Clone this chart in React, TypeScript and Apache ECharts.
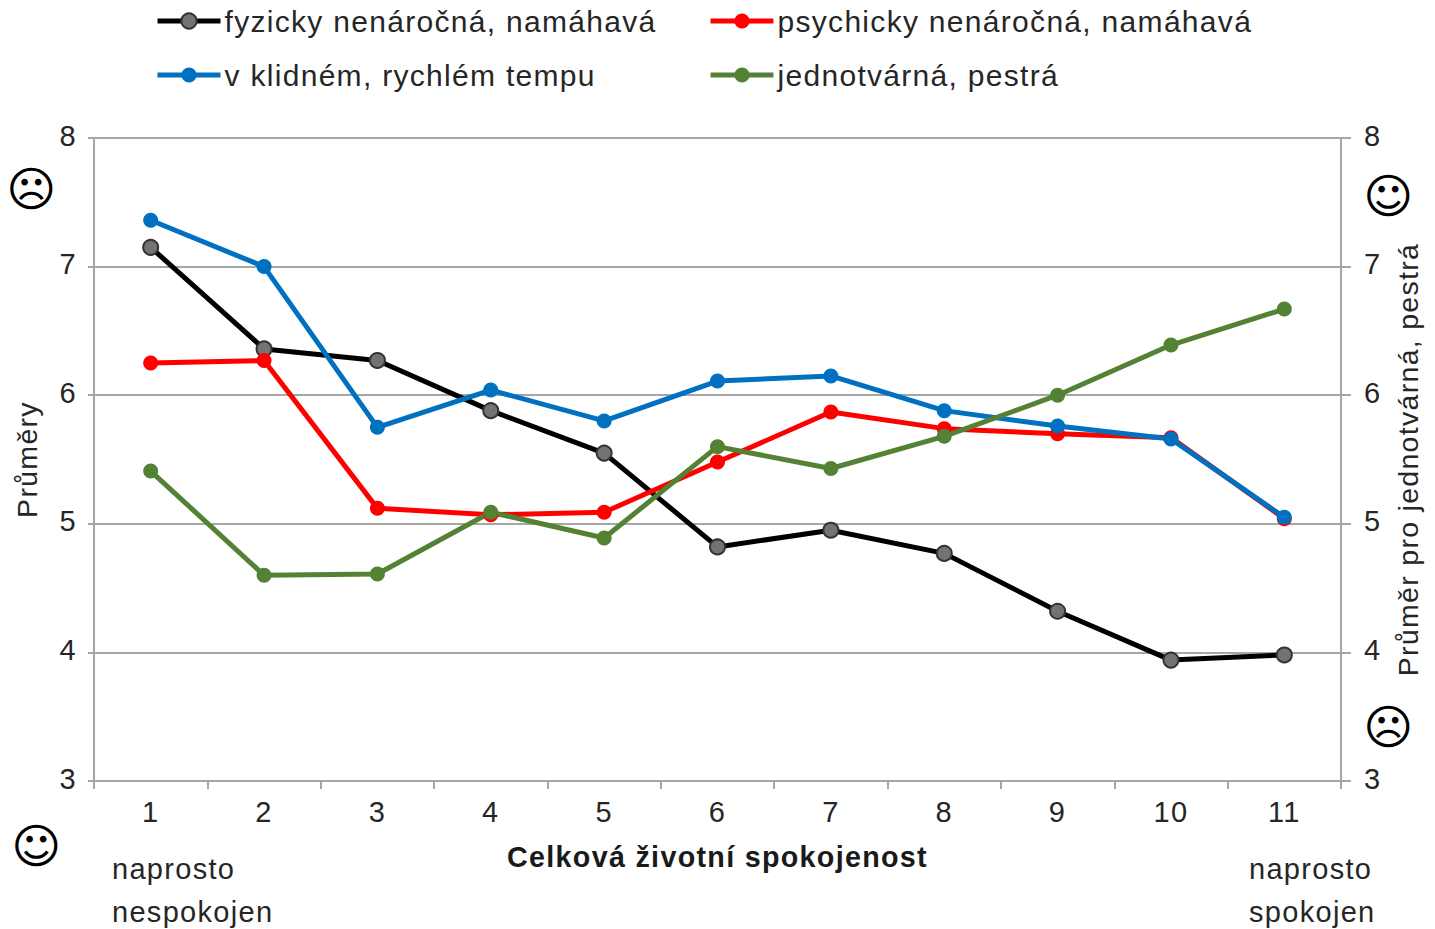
import React, { useEffect, useRef } from "react";
import * as echarts from "echarts";

const categories = ["1", "2", "3", "4", "5", "6", "7", "8", "9", "10", "11"];
const nameBlack = "fyzicky nenáročná, namáhavá";
const nameRed = "psychicky nenáročná, namáhavá";
const nameBlue = "v klidném, rychlém tempu";
const nameGreen = "jednotvárná, pestrá";
const black = [7.15, 6.36, 6.27, 5.88, 5.55, 4.82, 4.95, 4.77, 4.32, 3.94, 3.98];
const red = [6.25, 6.27, 5.12, 5.07, 5.09, 5.48, 5.87, 5.74, 5.7, 5.67, 5.04];
const blue = [7.36, 7.0, 5.75, 6.04, 5.8, 6.11, 6.15, 5.88, 5.76, 5.66, 5.05];
const green = [5.41, 4.6, 4.61, 5.09, 4.89, 5.6, 5.43, 5.68, 6.0, 6.39, 6.67];

const FONT = "'Liberation Sans', Arial, sans-serif";
const TXT = "#262626";
const GRID = "#a6a6a6";
const FS = 29;

const mkSeries = (name: string, data: number[], color: string, yAxisIndex: number, symbolColor?: string, border?: string) => ({
  name,
  type: "line",
  data,
  yAxisIndex,
  symbol: "circle",
  symbolSize: 15,
  showAllSymbol: true,
  lineStyle: { color, width: 5 },
  itemStyle: { color: symbolColor || color, borderColor: border || color, borderWidth: symbolColor ? 2 : 0 },
});

const mkLegend = (name: string, left: number, top: number) => ({
  data: [name],
  left,
  top,
  padding: 0,
  itemWidth: 63,
  itemHeight: 19,
  itemGap: 0,
  lineStyle: { width: 5 },
  textStyle: { fontFamily: FONT, fontSize: 30, color: TXT, padding: [0, 0, 0, -1] },
});

const txt = (x: number, y: number, text: string) => ({
  type: "text",
  x,
  y,
  style: { text, fontFamily: FONT, fontSize: FS, fill: TXT, verticalAlign: "middle" },
});

const face = (x: number, y: number, text: string) => ({
  type: "text",
  x,
  y,
  style: {
    text,
    fontFamily: "'DejaVu Sans'",
    fontSize: 48,
    fill: "#000",
    align: "center",
    verticalAlign: "middle",
  },
});

const yLabel = (margin: number) => ({
  margin,
  formatter: "{a|{value}}",
  rich: { a: { fontFamily: FONT, fontSize: FS, color: TXT, padding: [0, 0, 5, 0] } },
});

export default function App() {
  const ref = useRef<HTMLDivElement>(null);
  useEffect(() => {
    const chart = echarts.init(ref.current!, undefined, { renderer: "svg" });
    const yCommon = {
      type: "value",
      min: 3,
      max: 8,
      interval: 1,
      nameLocation: "middle",
      nameTextStyle: { fontFamily: FONT, fontSize: 28.5, color: TXT },
      axisLine: { show: true, lineStyle: { color: GRID, width: 2 } },
    };
    chart.setOption({
      animation: false,
      backgroundColor: "#fff",
      grid: { left: 94, right: 94, top: 138, bottom: 148, outerBoundsMode: "none" },
      legend: [
        mkLegend(nameBlack, 155, 6),
        mkLegend(nameRed, 708, 6),
        mkLegend(nameBlue, 155, 60),
        mkLegend(nameGreen, 708, 60),
      ],
      xAxis: {
        type: "category",
        data: categories,
        boundaryGap: true,
        name: "Celková životní spokojenost",
        nameLocation: "middle",
        nameGap: 61,
        nameTextStyle: { fontFamily: FONT, fontSize: 28.7, fontWeight: "bold", color: "#1a1a1a" },
        axisLine: { lineStyle: { color: GRID, width: 2 } },
        axisTick: { show: true, alignWithLabel: false, length: 8, lineStyle: { color: GRID, width: 2 } },
        axisLabel: { fontFamily: FONT, fontSize: FS, color: TXT, margin: 16, interval: 0 },
      },
      yAxis: [
        {
          ...yCommon,
          name: "Průměry",
          nameGap: 53,
          axisTick: { show: true, length: 6, lineStyle: { color: GRID, width: 2 } },
          axisLabel: yLabel(17),
          splitLine: { show: true, lineStyle: { color: GRID, width: 2 } },
        },
        {
          ...yCommon,
          position: "right",
          name: "Průměr pro jednotvárná, pestrá",
          nameGap: 52,
          nameRotate: 90,
          axisTick: { show: true, length: 10, lineStyle: { color: GRID, width: 2 } },
          axisLabel: yLabel(23),
          splitLine: { show: false },
        },
      ],
      series: [
        mkSeries(nameBlack, black, "#000000", 0, "#737373", "#333333"),
        mkSeries(nameRed, red, "#ff0000", 0),
        mkSeries(nameBlue, blue, "#0070c0", 0),
        mkSeries(nameGreen, green, "#548235", 1),
      ],
      graphic: [
        face(32, 189, "☹"),
        face(1389, 196, "☺"),
        face(1389, 727, "☹"),
        face(37, 846, "☺"),
        txt(112, 869, "naprosto"),
        txt(112, 912, "nespokojen"),
        txt(1249, 869, "naprosto"),
        txt(1249, 912, "spokojen"),
      ],
    });
    return () => chart.dispose();
  }, []);
  return <div ref={ref} style={{ position: "fixed", left: 0, top: 0, width: 1435, height: 929, letterSpacing: "1.3px" }} />;
}
